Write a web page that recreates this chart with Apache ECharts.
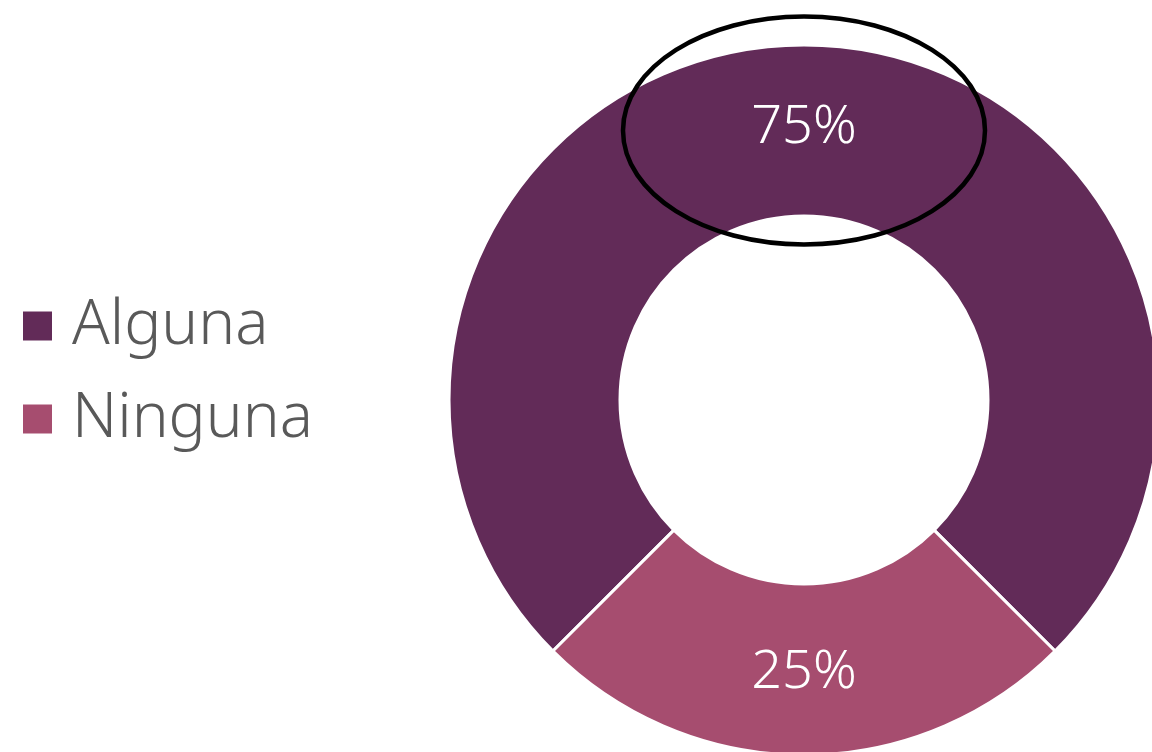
<!DOCTYPE html>
<html lang="es">
  <head>
    <meta charset="UTF-8" />
    <title>Alguna / Ninguna</title>
    <script src="https://cdn.jsdelivr.net/npm/echarts@6.0.0/dist/echarts.min.js"></script>
    <style>
      html, body { margin: 0; padding: 0; background: #fff; }
      #main { width: 1152px; height: 752px; }
    </style>
  </head>
  <body>
    <div id="main"></div>
    <script>
      var categories = ["Alguna", "Ninguna"];
      var values = [75, 25];
      var colors = ["#622B58", "#A64D6F"];

      var myChart = echarts.init(document.getElementById("main"));

      var option = {
        animation: false,
        color: colors,
        legend: {
          orient: "vertical",
          left: 21,
          top: 295,
          padding: 0,
          itemWidth: 31,
          itemHeight: 31,
          itemGap: 31,
          icon: "rect",
          data: categories,
          textStyle: {
            fontSize: 62,
            fontWeight: 300,
            fontFamily: "Noto Sans",
            color: "#595959",
            padding: [0, 0, 0, 14]
          }
        },
        series: [
          {
            type: "pie",
            center: [804, 400],
            radius: [184, 355],
            startAngle: 225,
            clockwise: true,
            itemStyle: { borderColor: "#fff", borderWidth: 3 },
            label: {
              position: "inside",
              formatter: "{c}%",
              color: "#fff",
              fontSize: 54,
              fontWeight: 300,
              fontFamily: "Noto Sans"
            },
            labelLine: { show: false },
            emphasis: { disabled: true },
            data: categories.map(function (name, i) {
              return { name: name, value: values[i] };
            })
          }
        ],
        graphic: [
          {
            type: "ellipse",
            shape: { cx: 804, cy: 130.5, rx: 181, ry: 114 },
            style: { fill: "none", stroke: "#000", lineWidth: 4.5 },
            z: 100
          }
        ]
      };

      myChart.setOption(option);
    </script>
  </body>
</html>
